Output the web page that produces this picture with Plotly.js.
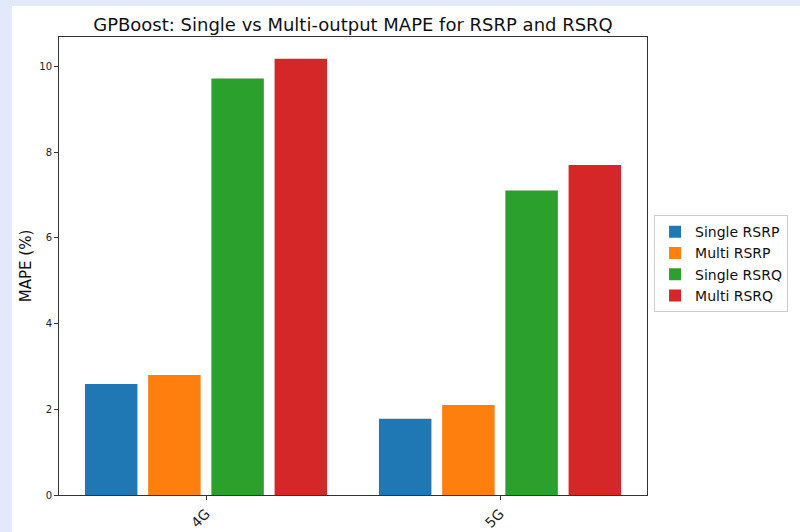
<!DOCTYPE html>
<html>
<head>
<meta charset="utf-8">
<script src="https://cdn.plot.ly/plotly-3.0.1.min.js"></script>
<style>
  html, body { margin: 0; padding: 0; background: #e2e9fb; width: 800px; height: 532px; overflow: hidden; }
  #chart { position: absolute; left: 12px; top: 6px; width: 788px; height: 526px; background: #ffffff; }
</style>
</head>
<body>
<div id="chart"></div>
<script>
const categories = ["4G", "5G"];
const seriesNames = ["Single RSRP", "Multi RSRP", "Single RSRQ", "Multi RSRQ"];
const singleRSRP = [2.59, 1.78];
const multiRSRP = [2.80, 2.10];
const singleRSRQ = [9.72, 7.11];
const multiRSRQ = [10.18, 7.70];
const seriesValues = [singleRSRP, multiRSRP, singleRSRQ, multiRSRQ];
const colors = ["#1f77b4", "#ff7f0e", "#2ca02c", "#d62728"];

const traces = seriesValues.map((vals, i) => ({
  type: "bar",
  name: seriesNames[i],
  x: categories,
  y: vals,
  marker: { color: colors[i], line: { width: 0 } },
  hoverinfo: "name+y"
}));

const layout = {
  width: 788,
  height: 526,
  paper_bgcolor: "#ffffff",
  plot_bgcolor: "#ffffff",
  margin: { l: 47, r: 153, t: 31, b: 37 },
  font: { family: "DejaVu Sans, sans-serif", color: "#222" },
  title: {
    text: "GPBoost: Single vs Multi-output MAPE for RSRP and RSRQ",
    font: { size: 18, family: "DejaVu Sans, sans-serif", color: "#111" },
    x: 0.5, xref: "paper", xanchor: "center",
    y: 1, yref: "paper", yanchor: "bottom",
    pad: { b: 6 }
  },
  barmode: "group",
  bargap: 0.14,
  bargroupgap: 0.17,
  xaxis: {
    type: "category",
    range: [-0.5, 1.5],
    showline: true, mirror: true, linecolor: "#333", linewidth: 1,
    ticks: "outside", ticklen: 4, tickcolor: "#333",
    tickangle: -45,
    tickfont: { size: 14, color: "#222" },
    showgrid: false, zeroline: false
  },
  yaxis: {
    range: [0, 10.69],
    tickvals: [0, 2, 4, 6, 8, 10],
    showline: true, mirror: true, linecolor: "#333", linewidth: 1,
    ticks: "outside", ticklen: 4, tickcolor: "#333",
    tickfont: { size: 10, color: "#222" },
    showgrid: false, zeroline: false,
    title: { text: "MAPE (%)", font: { size: 15, color: "#111" }, standoff: 4 }
  },
  showlegend: true,
  legend: {
    x: 1.012, xanchor: "left",
    y: 0.505, yanchor: "middle",
    bordercolor: "#cccccc", borderwidth: 1,
    bgcolor: "#ffffff",
    font: { size: 14, color: "#111" }
  }
};

Plotly.newPlot("chart", traces, layout, { displayModeBar: false, staticPlot: true });
</script>
</body>
</html>
